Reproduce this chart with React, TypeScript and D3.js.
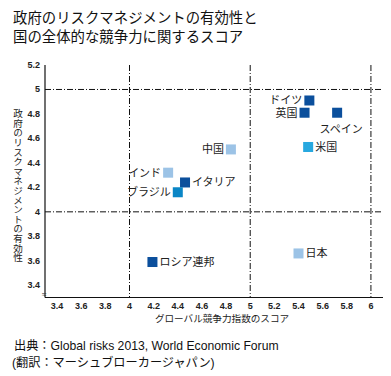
import React from "react";
import * as d3 from "d3";

const countries = ["ドイツ", "英国", "スペイン", "米国", "中国", "インド", "イタリア", "ブラジル", "ロシア連邦", "日本"];
const competitiveness = [5.49, 5.45, 5.72, 5.48, 4.84, 4.32, 4.46, 4.40, 4.19, 5.40];
const riskManagement = [4.91, 4.81, 4.81, 4.53, 4.51, 4.32, 4.24, 4.16, 3.59, 3.66];
const colorGroups = ["dark", "dark", "dark", "cyan", "light", "light", "dark", "mid", "dark", "light"];
const labelSides = ["left", "left", "below", "right", "left", "left", "right", "left", "right", "right"];
const xTicks = [3.4, 3.6, 3.8, 4, 4.2, 4.4, 4.6, 4.8, 5, 5.2, 5.4, 5.6, 5.8, 6];
const yTicks = [3.4, 3.6, 3.8, 4, 4.2, 4.4, 4.6, 4.8, 5, 5.2];
const xGuides = [4, 5, 6];
const yGuides = [4, 5];

const palette: Record<string, string> = {
  dark: "#0b4f9c",
  light: "#9cc3e6",
  cyan: "#27a8df",
  mid: "#0a86c6",
};

const W = 391, H = 376;
const x = d3.scaleLinear().domain([3.3, 6.1]).range([45, 383]);
const y = d3.scaleLinear().domain([3.3, 5.2]).range([297.5, 65]);

const fmt = (v: number) => (Number.isInteger(v) ? String(v) : v.toFixed(1));
const jp = "'Noto Sans CJK JP', sans-serif";
const mixed = "'Liberation Sans', 'Noto Sans CJK JP', sans-serif";
const narrow = "'Liberation Sans Narrow', 'Liberation Sans', sans-serif";

export default function App() {
  const sq = 10;
  return (
    <svg width={W} height={H} style={{ position: "absolute", left: 0, top: 0, background: "#fff" }}>
      <text x={13} y={23} fontFamily={jp} fontSize={14.4} fill="#111">政府のリスクマネジメントの有効性と</text>
      <text x={13} y={42} fontFamily={jp} fontSize={14.4} fill="#111">国の全体的な競争力に関するスコア</text>

      {yGuides.map((g) => (
        <line key={"yg" + g} x1={x(3.3)} x2={383} y1={y(g)} y2={y(g)} stroke="#111" strokeWidth={1} strokeDasharray="6,2,1,2" />
      ))}
      {xGuides.map((g) => (
        <line key={"xg" + g} x1={x(g)} x2={x(g)} y1={y(5.2)} y2={y(3.3)} stroke="#111" strokeWidth={1} strokeDasharray="6,2,1,2" />
      ))}

      <line x1={x(3.3)} x2={x(3.3)} y1={y(5.2)} y2={y(3.3)} stroke="#111" strokeWidth={1.2} />
      <line x1={x(3.3)} x2={383} y1={y(3.3)} y2={y(3.3)} stroke="#111" strokeWidth={1.2} />
      <text x={x(3.3) - 3} y={y(3.3) - 1} fontSize={8} fontFamily={narrow} fill="#333">≈</text>

      {yTicks.map((t) => (
        <text key={"yt" + t} x={40} y={y(t) + 3} textAnchor="end" fontFamily={narrow} fontSize={9} fontWeight="bold" fill="#222">{fmt(t)}</text>
      ))}
      {xTicks.map((t) => (
        <text key={"xt" + t} x={x(t)} y={309} textAnchor="middle" fontFamily={narrow} fontSize={9} fontWeight="bold" fill="#222">{fmt(t)}</text>
      ))}

      <text x={222} y={322} textAnchor="middle" fontFamily={jp} fontSize={9.6} fill="#222">グローバル競争力指数のスコア</text>
      <text x={18} y={185.5} textAnchor="middle" fontFamily={jp} fontSize={9.6} fill="#222" style={{ writingMode: "vertical-rl" as any }}>政府のリスクマネジメントの有効性</text>

      {countries.map((c, i) => {
        const cx = x(competitiveness[i]);
        const cy = y(riskManagement[i]);
        const side = labelSides[i];
        let lx = cx, ly = cy + 4, anchor: "start" | "end" | "middle" = "start";
        if (side === "left") { lx = cx - sq / 2 - 2; anchor = "end"; }
        else if (side === "right") { lx = cx + sq / 2 + 2; anchor = "start"; }
        else { lx = cx + 4; ly = cy + 20; anchor = "middle"; }
        return (
          <g key={c}>
            <rect x={cx - sq / 2} y={cy - sq / 2} width={sq} height={sq} fill={palette[colorGroups[i]]} />
            <text x={lx} y={ly} textAnchor={anchor} fontFamily={jp} fontSize={11} fill="#222">{c}</text>
          </g>
        );
      })}

      <text x={14} y={350} fontFamily={mixed} fontSize={12.2} fill="#111">出典：Global risks 2013, World Economic Forum</text>
      <text x={12} y={367} fontFamily={mixed} fontSize={12.2} fill="#111">(翻訳：マーシュブローカージャパン)</text>
    </svg>
  );
}
